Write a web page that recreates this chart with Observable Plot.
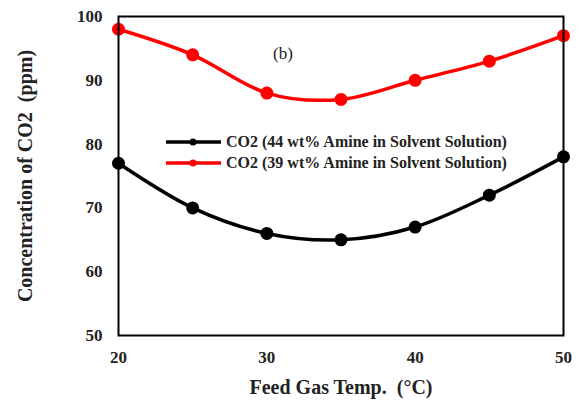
<!DOCTYPE html>
<html>
<head>
<meta charset="utf-8">
<script src="https://cdn.jsdelivr.net/npm/d3@7"></script>
<script src="https://cdn.jsdelivr.net/npm/@observablehq/plot@0.6"></script>
<style>
  html, body { margin: 0; padding: 0; background: #fff; }
  #wrap { position: relative; width: 579px; height: 401px; font-family: "Liberation Serif", "Times New Roman", serif; }
  #legend { position: absolute; left: 166px; top: 131px; font-weight: bold; font-size: 16px; color: #222; line-height: 21px; }
  .row { display: flex; align-items: center; height: 21px; }
  .row svg { margin-right: 4px; }
  #tag { position: absolute; left: 273px; top: 44px; font-size: 17px; color: #222; }
</style>
</head>
<body>
<div id="wrap">
  <div id="chart"></div>
  <div id="legend"></div>
  <div id="tag">(b)</div>
</div>
<script>
const temps = [20, 25, 30, 35, 40, 45, 50];
const co2_44 = [77, 70, 66, 65, 67, 72, 78];
const co2_39 = [98, 94, 88, 87, 90, 93, 97];
const seriesNames = ["CO2 (44 wt% Amine in Solvent Solution)", "CO2 (39 wt% Amine in Solvent Solution)"];
const seriesColors = ["#000000", "#ff0000"];
const xTicks = [20, 30, 40, 50];
const yTicks = [50, 60, 70, 80, 90, 100];
const xTitle = "Feed Gas Temp.  (°C)";
const yTitle = "Concentration of CO2  (ppm)";

const data = [];
temps.forEach((t, i) => {
  data.push({temp: t, value: co2_44[i], series: seriesNames[0]});
  data.push({temp: t, value: co2_39[i], series: seriesNames[1]});
});

const font = "Liberation Serif";
const chart = Plot.plot({
  width: 579,
  height: 401,
  marginLeft: 118,
  marginRight: 16,
  marginTop: 16,
  marginBottom: 66,
  style: {fontFamily: font, background: "white", overflow: "visible"},
  x: {domain: [20, 50]},
  y: {domain: [50, 100]},
  color: {domain: seriesNames, range: seriesColors},
  marks: [
    Plot.axisX({ticks: xTicks, tickSize: 0, tickPadding: 15, label: null, fontSize: 17, fontWeight: "bold", fill: "#222", fontFamily: font}),
    Plot.axisY({ticks: yTicks, tickSize: 0, tickPadding: 16, label: null, fontSize: 17, fontWeight: "bold", fill: "#222", fontFamily: font}),
    Plot.line(data, {x: "temp", y: "value", z: "series", stroke: "series", strokeWidth: 3.5, curve: "cardinal"}),
    Plot.dot(data, {x: "temp", y: "value", fill: "series", r: 6.5}),
    Plot.frame({stroke: "black", strokeWidth: 2}),
    Plot.text([xTitle], {frameAnchor: "bottom", dy: 58, fontSize: 20, fontWeight: "bold", fill: "#222", fontFamily: font}),
    Plot.text([yTitle], {frameAnchor: "left", textAnchor: "middle", dx: -93, rotate: -90, fontSize: 20, fontWeight: "bold", fill: "#222", fontFamily: font})
  ]
});
document.getElementById("chart").appendChild(chart);

const legend = document.getElementById("legend");
seriesNames.forEach((name, i) => {
  const row = document.createElement("div");
  row.className = "row";
  const c = seriesColors[i];
  row.innerHTML = `<svg width="56" height="10"><line x1="0" y1="5" x2="55" y2="5" stroke="${c}" stroke-width="3.5"/><circle cx="27" cy="5" r="3.5" fill="${c}"/></svg><span>${name}</span>`;
  legend.appendChild(row);
});
</script>
</body>
</html>
